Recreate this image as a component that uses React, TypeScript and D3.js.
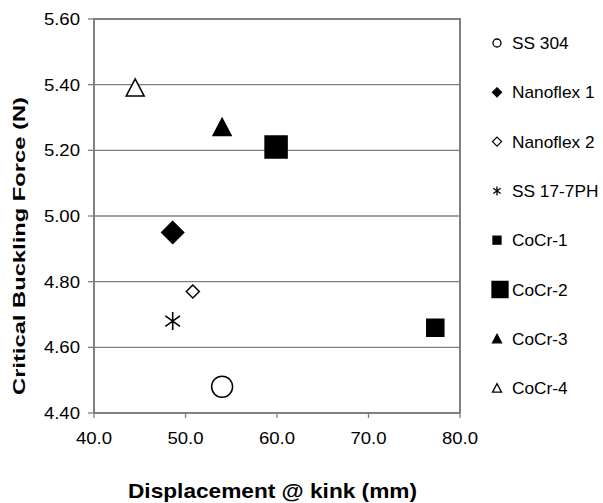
import { useEffect, useRef } from 'react'
import * as d3 from 'd3'

const W = 603, H = 503
const L = 94, R = 460, T = 19, B = 413

const names = ['SS 304', 'Nanoflex 1', 'Nanoflex 2', 'SS 17-7PH', 'CoCr-1', 'CoCr-2', 'CoCr-3', 'CoCr-4']
const xs = [54.0, 48.6, 50.8, 48.6, 77.3, 59.9, 54.0, 44.5]
const ys = [4.48, 4.95, 4.77, 4.68, 4.66, 5.21, 5.27, 5.39]
const shapes = ['circle', 'diamond', 'diamond', 'star', 'square', 'square', 'triangle', 'triangle']
const filled = [false, true, false, false, true, true, true, false]
const plotSize = [21, 22, 13, 18, 17, 22, 18, 18]
const legendSize = [8, 9, 9, 9, 8, 16, 9, 9]
const yTicks = [4.4, 4.6, 4.8, 5.0, 5.2, 5.4, 5.6]
const xTicks = [40, 50, 60, 70, 80]

const FONT = 'Liberation Sans, Arial, sans-serif'

function shapePath(kind: string, s: number) {
  const h = s / 2
  const p = d3.path()
  if (kind === 'circle') {
    p.arc(0, 0, h, 0, Math.PI * 2)
  } else if (kind === 'diamond') {
    p.moveTo(0, -h); p.lineTo(h, 0); p.lineTo(0, h); p.lineTo(-h, 0); p.closePath()
  } else if (kind === 'square') {
    p.rect(-h, -h, s, s)
  } else if (kind === 'triangle') {
    p.moveTo(0, -h); p.lineTo(h, h * 0.9); p.lineTo(-h, h * 0.9); p.closePath()
  } else {
    const a = Math.PI / 3.3
    p.moveTo(0, -h); p.lineTo(0, h)
    p.moveTo(-h * Math.sin(a), -h * Math.cos(a)); p.lineTo(h * Math.sin(a), h * Math.cos(a))
    p.moveTo(h * Math.sin(a), -h * Math.cos(a)); p.lineTo(-h * Math.sin(a), h * Math.cos(a))
  }
  return p.toString()
}

export default function App() {
  const ref = useRef<SVGSVGElement>(null)

  useEffect(() => {
    if (!ref.current) return
    const svg = d3.select(ref.current)
    svg.selectAll('*').remove()

    const x = d3.scaleLinear().domain([40, 80]).range([L, R])
    const y = d3.scaleLinear().domain([4.4, 5.6]).range([B, T])

    svg.append('rect').attr('width', W).attr('height', H).attr('fill', '#fff')

    // gridlines
    svg.append('g').selectAll('line').data(yTicks).join('line')
      .attr('x1', L).attr('x2', R).attr('y1', d => y(d)).attr('y2', d => y(d))
      .attr('stroke', '#808080').attr('stroke-width', 1.3)

    // frame
    svg.append('rect').attr('x', L).attr('y', T).attr('width', R - L).attr('height', B - T)
      .attr('fill', 'none').attr('stroke', '#808080').attr('stroke-width', 2)

    // ticks
    svg.append('g').selectAll('line').data(yTicks).join('line')
      .attr('x1', L - 6).attr('x2', L).attr('y1', d => y(d)).attr('y2', d => y(d))
      .attr('stroke', '#808080').attr('stroke-width', 1.3)
    svg.append('g').selectAll('line').data(xTicks).join('line')
      .attr('x1', d => x(d)).attr('x2', d => x(d)).attr('y1', B).attr('y2', B + 5)
      .attr('stroke', '#808080').attr('stroke-width', 1.3)

    // tick labels
    svg.append('g').selectAll('text').data(yTicks).join('text')
      .attr('transform', d => `translate(80,${y(d) + 6}) scale(1.16,1)`)
      .attr('text-anchor', 'end').attr('font-family', FONT).attr('font-size', 16)
      .attr('fill', '#000').text(d => d.toFixed(2))
    svg.append('g').selectAll('text').data(xTicks).join('text')
      .attr('transform', d => `translate(${x(d)},444) scale(1.16,1)`)
      .attr('text-anchor', 'middle').attr('font-family', FONT).attr('font-size', 16)
      .attr('fill', '#000').text(d => d.toFixed(1))

    // axis titles
    svg.append('text').attr('x', 128).attr('y', 498)
      .attr('font-family', FONT).attr('font-size', 21).attr('font-weight', 'bold')
      .attr('textLength', 289).attr('lengthAdjust', 'spacingAndGlyphs')
      .text('Displacement @ kink (mm)')
    svg.append('text').attr('transform', 'translate(25,395) rotate(-90)')
      .attr('font-family', FONT).attr('font-size', 17).attr('font-weight', 'bold')
      .attr('textLength', 298).attr('lengthAdjust', 'spacingAndGlyphs')
      .text('Critical Buckling Force (N)')

    // points
    svg.append('g').selectAll('path').data(names).join('path')
      .attr('transform', (_, i) => `translate(${x(xs[i])},${y(ys[i])})`)
      .attr('d', (_, i) => shapePath(shapes[i], plotSize[i]))
      .attr('fill', (_, i) => filled[i] ? '#000' : '#fff')
      .attr('stroke', '#000')
      .attr('stroke-width', (_, i) => shapes[i] === 'star' ? 1.6 : 1.5)

    // legend
    const lg = svg.append('g').selectAll('g').data(names).join('g')
      .attr('transform', (_, i) => `translate(0,${43 + i * 49.3})`)
    lg.append('path')
      .attr('transform', (_, i) => `translate(${legendSize[i] > 12 ? 500 : 497},0)`)
      .attr('d', (_, i) => shapePath(shapes[i], legendSize[i]))
      .attr('fill', (_, i) => filled[i] ? '#000' : '#fff')
      .attr('stroke', '#000').attr('stroke-width', 1.3)
    lg.append('text')
      .attr('transform', 'translate(512,6) scale(1.08,1)')
      .attr('font-family', FONT).attr('font-size', 16).attr('fill', '#000')
      .text(d => d)
  }, [])

  return <svg ref={ref} width={W} height={H} style={{ position: 'absolute', left: 0, top: 0 }} />
}
